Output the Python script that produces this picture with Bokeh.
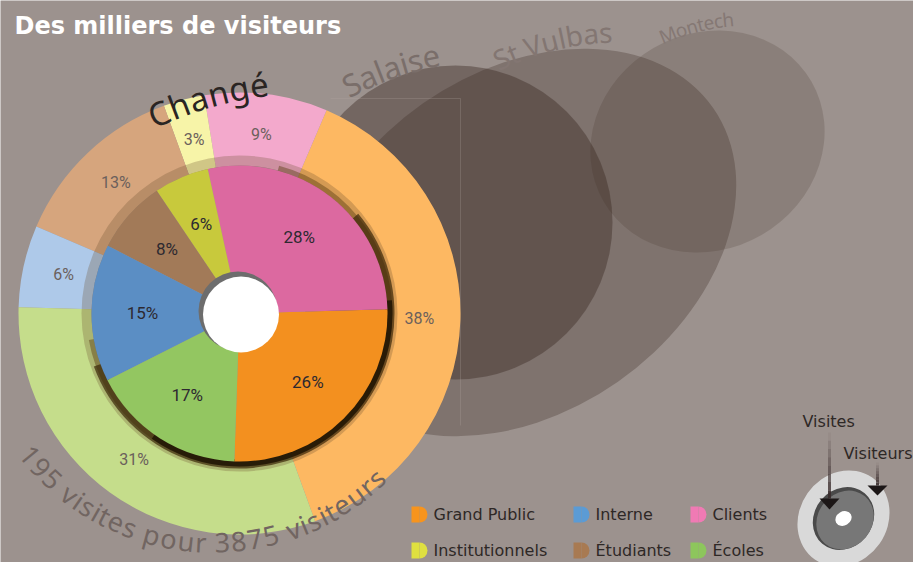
import math
import numpy as np
from bokeh.plotting import figure
from bokeh.models import Range1d, ColumnDataSource
from bokeh.core.properties import value
from bokeh.embed import file_html
from bokeh.resources import INLINE

# ---------------- data ----------------
title_text = "Des milliers de visiteurs"
changed_label = "Changé"
categories = ["Grand Public", "Clients", "Institutionnels", "Étudiants", "Interne", "Écoles"]
visiteurs_pct = [38, 9, 3, 13, 6, 31]   # outer ring : visiteurs
visites_pct = [26, 28, 6, 8, 15, 17]    # inner pie : visites
total_visites = 195
total_visiteurs = 3875
sites = ["Salaise", "St Vulbas", "Montech"]
legend_rows = [["Grand Public", "Interne", "Clients"],
               ["Institutionnels", "Étudiants", "Écoles"]]
key_labels = ["Visites", "Visiteurs"]

# ---------------- styles ----------------
BG = "#9c928e"
outer_colors = {"Grand Public": "#fdb862", "Clients": "#f3a9cc", "Institutionnels": "#f7f4a8",
                "Étudiants": "#d6a57d", "Interne": "#aec9e9", "Écoles": "#c5dd8b"}
inner_colors = {"Grand Public": "#f3901f", "Clients": "#dc69a0", "Institutionnels": "#c8c93c",
                "Étudiants": "#a27a58", "Interne": "#5b8ec4", "Écoles": "#93c661"}
legend_colors = {"Grand Public": "#f7941d", "Interne": "#5b9bd5", "Clients": "#f07ab4",
                 "Institutionnels": "#dfe040", "Étudiants": "#a87a52", "Écoles": "#8dc65c"}

W, H = 913, 562


def PY(yp):
    """reference pixel row -> data y"""
    return H - yp


p = figure(width=W, height=H, x_range=Range1d(0, W), y_range=Range1d(0, H),
           output_backend="svg", toolbar_location=None, min_border=0)
p.axis.visible = False
p.grid.visible = False
p.outline_line_color = None
p.background_fill_color = BG
p.border_fill_color = BG

# ---------------- background site bubbles ----------------
site_geo = {  # centre x, centre y (px), width, height, angle(deg), alpha
    "Salaise": (455, 222, 314, 314, 0, 0.42),
    "St Vulbas": (520, 242, 470, 340, 35, 0.30),
    "Montech": (707, 141, 240, 216, 30, 0.18),
}
p.ellipse(x=[site_geo[s][0] for s in sites], y=[PY(site_geo[s][1]) for s in sites],
          width=[site_geo[s][2] for s in sites], height=[site_geo[s][3] for s in sites],
          angle=[math.radians(site_geo[s][4]) for s in sites],
          fill_color="#3c2a24", fill_alpha=[site_geo[s][5] for s in sites], line_color=None)

p.line(x=[460, 460], y=[PY(98), PY(425)], line_color="#b3a8a4", line_alpha=0.25, line_width=1)
p.line(x=[330, 460], y=[PY(98), PY(98)], line_color="#b3a8a4", line_alpha=0.25, line_width=1)

# ---------------- curved text helper ----------------
CW = {' ': .26, 'a': .561, 'b': .613, 'c': .48, 'e': .561, 'é': .561, 'g': .613, 'h': .615,
      'i': .258, 'l': .258, 'n': .615, 'o': .602, 'p': .613, 'r': .408, 's': .479, 't': .336,
      'u': .615, 'v': .527, 'C': .632, 'M': .897, 'S': .549, 'V': .6}
for d in "0123456789":
    CW[d] = .572


def arc_text(text, cxp, cyp, r, a_first, a_last, size, color, font="Noto Sans",
             baseline="alphabetic", alpha=1.0):
    w = np.array([CW.get(ch, 0.56) for ch in text])
    c = np.cumsum(w) - w / 2
    f = (c - c[0]) / (c[-1] - c[0])
    a = np.radians(a_first + (a_last - a_first) * f)
    xs = cxp + r * np.cos(a)
    ys = PY(cyp) + r * np.sin(a)
    rot = a - np.pi / 2 if a_last < a_first else a + np.pi / 2
    p.text(x=xs, y=ys, text=list(text), angle=rot, text_align="center",
           text_baseline=baseline, text_font=value(font), text_font_size=value(f"{size}px"),
           text_color=color, text_alpha=alpha)


arc_text(sites[0], 488, 352.5, 302, 117, 101, 31, "#7a6e6a")
arc_text(sites[1], 620, 313, 282, 115, 93, 28, "#837672")
arc_text(sites[2], 751, 241, 223, 112, 96, 19, "#857874")

# ---------------- donut ----------------
CX, CY = 239, PY(313)
R_OUT, R_IN, R_PIE, R_HOLE = 221, 148, 148, 38
OUTER_START, INNER_START = -70, -92


def wedge_angles(pcts, start_deg):
    fr = np.array(pcts, float) / sum(pcts)
    ends = start_deg + np.cumsum(fr) * 360
    starts = ends - fr * 360
    return np.radians(starts), np.radians(ends)


os_, oe_ = wedge_angles(visiteurs_pct, OUTER_START)
outer_src = ColumnDataSource(dict(s=os_, e=oe_, c=[outer_colors[k] for k in categories]))
p.annular_wedge(x=CX, y=CY, inner_radius=R_IN, outer_radius=R_OUT, start_angle="s",
                end_angle="e", fill_color="c", line_color=None, source=outer_src)

# glass rim around inner pie (translucent band + shadow tapering on the lower right)
p.annulus(x=CX, y=CY, inner_radius=146, outer_radius=158, fill_color="#6b4e2e",
          fill_alpha=0.28, line_color=None)
rim_layers = [  # start deg, end deg, outer radius, colour, alpha
    (-170, 75, 153, "#5a3e14", 0.45),
    (-160, 40, 155, "#3a2709", 0.7),
    (-125, 5, 153, "#160d00", 0.7),
]
for a0, a1, ro, col, al in rim_layers:
    p.annular_wedge(x=CX, y=CY, inner_radius=146, outer_radius=ro, start_angle=math.radians(a0),
                    end_angle=math.radians(a1), fill_color=col, fill_alpha=al, line_color=None)

is_, ie_ = wedge_angles(visites_pct, INNER_START)
inner_src = ColumnDataSource(dict(s=is_, e=ie_, c=[inner_colors[k] for k in categories]))
p.wedge(x=CX, y=CY, radius=R_PIE, start_angle="s", end_angle="e", fill_color="c",
        line_color=None, source=inner_src)

# hole
p.circle(x=[CX - 1.5], y=[CY + 2.5], radius=39.5, fill_color="#6d6d6d", line_color=None)
p.circle(x=[CX + 1.5], y=[CY - 1], radius=R_HOLE, fill_color="#ffffff", line_color=None)


# percentage labels
def mid_xy(s, e, r):
    m = (s + e) / 2
    return CX + r * np.cos(m), CY + r * np.sin(m)


ox, oy = mid_xy(os_, oe_, 180)
p.text(x=ox, y=oy, text=[f"{v}%" for v in visiteurs_pct], text_align="center",
       text_baseline="middle", text_font=value("Roboto"), text_font_size=value("16px"),
       text_color="#6b605c")
ix, iy = mid_xy(is_, ie_, 97)
p.text(x=ix, y=iy, text=[f"{v}%" for v in visites_pct], text_align="center",
       text_baseline="middle", text_font=value("Roboto"), text_font_size=value("17px"),
       text_color="#2d2930")

# curved captions
arc_text(changed_label, 310.5, 454.5, 374, 114, 98, 33, "#2a2523")
arc_text(f"{total_visites} visites pour {total_visiteurs} visiteurs", 213, 306, 236, 219, 313.5,
         27, "#716561", baseline="middle")

# ---------------- title ----------------
p.text(x=[14], y=[PY(25)], text=[title_text], text_font=value("DejaVu Sans"),
       text_font_style="bold", text_font_size=value("24px"), text_color="#ffffff",
       text_baseline="alphabetic", text_align="left")

# ---------------- legend ----------------
col_x = [411, 573, 690]
row_y = [514, 550]
for ri, row in enumerate(legend_rows):
    for ci, name in enumerate(row):
        x0, yc = col_x[ci], PY(row_y[ri])
        col = legend_colors[name]
        p.rect(x=[x0 + 4], y=[yc], width=8, height=16, fill_color=col, line_color=None)
        p.wedge(x=[x0 + 8], y=[yc], radius=8, start_angle=-math.pi / 2, end_angle=math.pi / 2,
                fill_color=col, line_color=None)
        p.text(x=[x0 + 22], y=[yc], text=[name], text_font=value("DejaVu Sans"),
               text_font_size=value("16px"), text_color="#2e2826", text_baseline="middle",
               text_align="left")

# ---------------- key icon ----------------
KX, KY = 843, 518
p.ellipse(x=[KX], y=[PY(KY)], width=100, height=88, angle=math.radians(55),
          fill_color="#d9d9d9", line_color=None)
p.ellipse(x=[KX], y=[PY(KY)], width=66, height=58, angle=math.radians(50),
          fill_color="#4a4a4a", line_color=None)
p.ellipse(x=[KX + 1.5], y=[PY(KY + 1.5)], width=62, height=54, angle=math.radians(50),
          fill_color="#777777", line_color=None)
p.ellipse(x=[KX], y=[PY(KY)], width=17, height=14, angle=math.radians(30),
          fill_color="#ffffff", line_color=None)


def grad_arrow(x, y_top, y_bot, head):
    n = 8
    ys = np.linspace(y_top, y_bot, n + 1)
    for i in range(n):
        p.line(x=[x, x], y=[PY(ys[i]), PY(ys[i + 1])], line_color="#3a2c2c",
               line_alpha=0.05 + 0.85 * i / (n - 1), line_width=3)
    p.patch(x=[x - 10, x + 10, x], y=[PY(y_bot), PY(y_bot), PY(y_bot + head)],
            fill_color="#1c1717", line_color=None)


grad_arrow(829, 432, 498, 11)
grad_arrow(877, 462, 485, 10)
p.text(x=[802], y=[PY(421)], text=[key_labels[0]], text_font=value("DejaVu Sans"),
       text_font_size=value("16px"), text_color="#2e2826", text_baseline="alphabetic")
p.text(x=[843], y=[PY(453)], text=[key_labels[1]], text_font=value("DejaVu Sans"),
       text_font_size=value("16px"), text_color="#2e2826", text_baseline="alphabetic")

html = file_html(p, INLINE, title=title_text)
open("out.html", "w").write(html)
